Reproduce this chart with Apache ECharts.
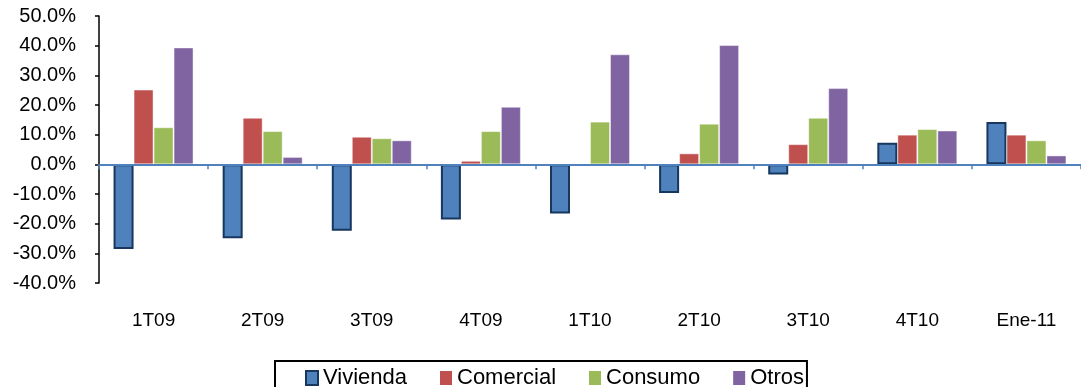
<!DOCTYPE html>
<html>
<head>
<meta charset="utf-8">
<script src="https://cdn.jsdelivr.net/npm/echarts@6/dist/echarts.min.js"></script>
<style>
  html, body { margin: 0; padding: 0; background: #fff; }
  #chart { width: 1081px; height: 387px; }
</style>
</head>
<body>
<div id="chart"></div>
<script>
// trimestres
const categories = ['1T09', '2T09', '3T09', '4T09', '1T10', '2T10', '3T10', '4T10', 'Ene-11']
// variación % por cartera
const vivienda = [-28.5, -24.9, -22.4, -18.6, -16.6, -9.7, -3.4, 7.3, 14.3]
const comercial = [25.2, 15.7, 9.3, 1.2, 0.0, 3.7, 6.8, 10.0, 10.0]
const consumo = [12.5, 11.2, 8.8, 11.2, 14.4, 13.7, 15.7, 11.9, 8.1]
const otros = [39.4, 2.5, 8.1, 19.4, 37.1, 40.2, 25.7, 11.4, 3.0]

const font = 'Liberation Sans, Arial, sans-serif'

const barSerie = (name, data, color, border, bw) => ({
    name: name,
    type: 'bar',
    xAxisIndex: 0,
    data: data,
    barWidth: 20,
    barGap: '0%',
    itemStyle: { color: color, borderColor: border, borderWidth: bw }
})

let chart = echarts.init(document.getElementById('chart'))
let option = {
    backgroundColor: '#fff',
    animation: false,
    textStyle: { fontFamily: font, color: '#000' },
    grid: { left: 99, top: 16, width: 994, height: 267 },
    legend: {
        top: 361,
        left: 275,
        padding: [6, 3, 10, 30],
        borderColor: '#000',
        borderWidth: 2,
        icon: 'rect',
        itemWidth: 12,
        itemHeight: 14,
        itemGap: 33,
        textStyle: { fontFamily: font, fontSize: 22, color: '#000' },
        data: [
            { name: 'Vivienda', itemStyle: { borderColor: '#17375E', borderWidth: 2 } },
            { name: 'Comercial', itemStyle: { borderWidth: 0 } },
            { name: 'Consumo', itemStyle: { borderWidth: 0 } },
            { name: 'Otros', itemStyle: { borderWidth: 0 } }
        ]
    },
    xAxis: [
        {
            type: 'category',
            data: categories,
            position: 'bottom',
            z: 5,
            axisLine: { onZero: true, lineStyle: { color: '#4F81BD', width: 2 } },
            axisTick: { show: true, length: 5, lineStyle: { color: '#4F81BD', width: 1.5 } },
            axisLabel: { show: false }
        },
        {
            type: 'category',
            data: categories,
            position: 'bottom',
            axisLine: { show: false, onZero: false },
            axisTick: { show: false },
            axisLabel: { fontFamily: font, fontSize: 19, color: '#000', margin: 28 }
        }
    ],
    yAxis: {
        type: 'value',
        min: -40,
        max: 50,
        interval: 10,
        splitLine: { show: false },
        axisLine: { show: true, lineStyle: { color: '#000', width: 1.5 } },
        axisTick: { show: true, length: 4, lineStyle: { color: '#000', width: 1.5 } },
        axisLabel: {
            fontFamily: font,
            fontSize: 20,
            color: '#000',
            margin: 23,
            formatter: v => v.toFixed(1) + '%'
        }
    },
    series: [
        barSerie('Vivienda', vivienda, '#4F81BD', '#17375E', 2),
        barSerie('Comercial', comercial, '#C0504D', 'rgba(255,255,255,0.45)', 1),
        barSerie('Consumo', consumo, '#9BBB59', 'rgba(255,255,255,0.45)', 1),
        barSerie('Otros', otros, '#8064A2', 'rgba(255,255,255,0.45)', 1)
    ]
}
chart.setOption(option)
</script>
</body>
</html>
